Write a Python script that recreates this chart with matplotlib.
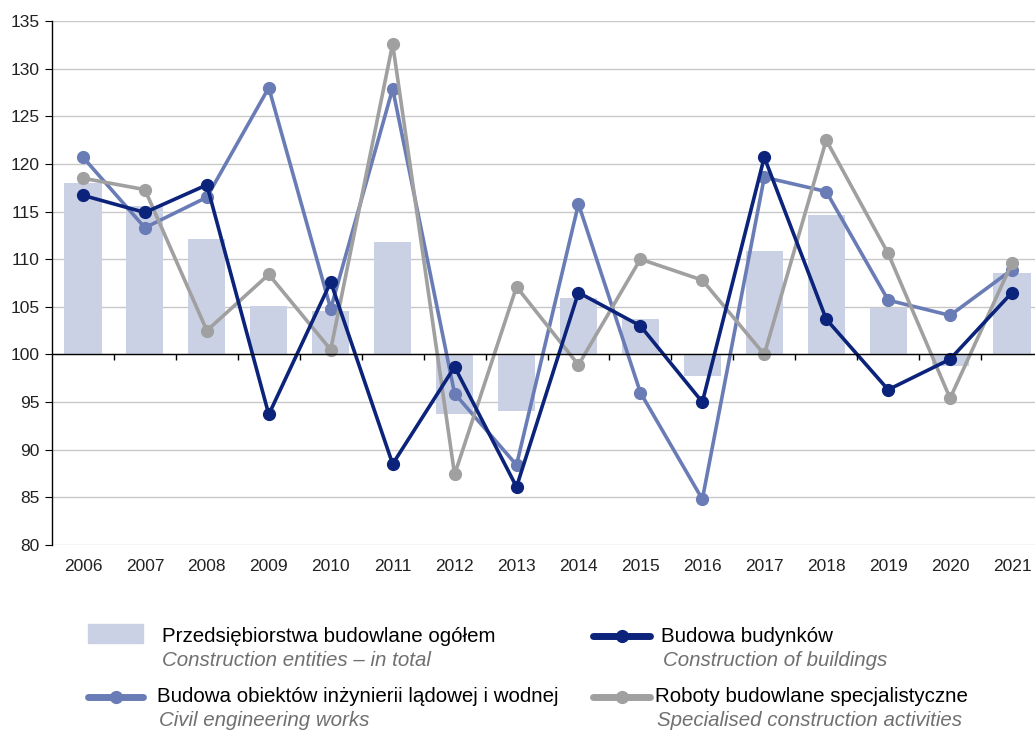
import matplotlib
matplotlib.use("Agg")
import matplotlib.pyplot as plt
from matplotlib.lines import Line2D
from matplotlib.patches import Rectangle
import numpy as np

plt.rcParams['font.family'] = ['Liberation Sans', 'DejaVu Sans']

years = ["2006", "2007", "2008", "2009", "2010", "2011", "2012", "2013",
         "2014", "2015", "2016", "2017", "2018", "2019", "2020", "2021"]
total = [118.0, 115.6, 112.1, 105.1, 104.6, 111.8, 93.7, 94.1,
         105.9, 103.7, 97.7, 110.9, 114.6, 104.9, 98.8, 108.5]
buildings = [116.7, 114.9, 117.8, 93.7, 107.6, 88.5, 98.7, 86.1,
             106.5, 103.0, 95.0, 120.7, 103.7, 96.3, 99.5, 106.5]
civil = [120.7, 113.3, 116.5, 128.0, 104.8, 127.9, 95.9, 88.4,
         115.8, 96.0, 84.8, 118.6, 117.1, 105.7, 104.1, 108.9]
special = [118.5, 117.3, 102.5, 108.4, 100.5, 132.6, 87.4, 107.1,
           98.9, 110.0, 107.8, 100.0, 122.5, 110.6, 95.4, 109.6]

labels_pl = ["Przedsiębiorstwa budowlane ogółem", "Budowa budynków",
             "Budowa obiektów inżynierii lądowej i wodnej", "Roboty budowlane specjalistyczne"]
labels_en = ["Construction entities – in total", "Construction of buildings",
             "Civil engineering works", "Specialised construction activities"]

c_bar = "#CBD1E4"
c_navy = "#0B237A"
c_blue = "#6A7CB6"
c_gray = "#A0A0A0"

W, H = 1035, 732
fig = plt.figure(figsize=(W / 100, H / 100), dpi=100)
ax = fig.add_axes([52 / W, (H - 545) / H, 991 / W, 524 / H])

x = np.arange(len(years))
ax.bar(x, np.array(total) - 100, bottom=100, width=0.6, color=c_bar, zorder=2)

lw = 2.6
ms = 8.5
for data, col in [(civil, c_blue), (special, c_gray), (buildings, c_navy)]:
    ax.plot(x, data, color=col, lw=lw, marker='o', ms=ms, zorder=3)

ax.set_xlim(-0.5, len(years) - 0.5)
ax.set_ylim(80, 135)
ax.set_yticks(np.arange(80, 136, 5))
ax.yaxis.grid(True, color="#C8C8C8", lw=1)
ax.set_axisbelow(True)
for s in ["top", "right", "bottom"]:
    ax.spines[s].set_visible(False)
ax.spines["left"].set_color("black")
ax.spines["left"].set_linewidth(1)
ax.tick_params(axis='y', direction='out', length=5, color='black', labelsize=12.5,
               labelcolor="#222222", pad=4)
ax.set_xticks(x)
ax.set_xticklabels(years)
ax.tick_params(axis='x', length=0, labelsize=12.5, labelcolor="#222222", pad=10)

# baseline at 100 with category separator ticks
ax.axhline(100, color="black", lw=1, zorder=4)
ax.vlines(x[:-1] + 0.5, 99.45, 100, color="black", lw=1, zorder=4)

# legend
lax = fig.add_axes([0, 0, 1, 1])
lax.set_xlim(0, W)
lax.set_ylim(H, 0)
lax.axis('off')
fs = 14.8
lax.add_patch(Rectangle((88, 624), 55, 19, color=c_bar))
items = [(c_navy, 593, 650, 636, 661, 1), (c_blue, 88, 143, 697, 157, 2), (c_gray, 593, 650, 697, 655, 3)]
lax.text(162, 636, labels_pl[0], fontsize=fs, va='center', color='black')
lax.text(162, 660, labels_en[0], fontsize=fs, va='center', color='#707070', style='italic')
for col, x0, x1, yy, tx, i in items:
    lax.add_line(Line2D([x0, x1], [yy, yy], color=col, lw=5, solid_capstyle='round'))
    lax.add_line(Line2D([(x0 + x1) / 2], [yy], color=col, marker='o', ms=8.5, lw=0))
    lax.text(tx, yy, labels_pl[i], fontsize=fs, va='center', color='black')
    lax.text(tx + 2, yy + 24, labels_en[i], fontsize=fs, va='center', color='#707070', style='italic')

fig.savefig("out.png", dpi=100)
